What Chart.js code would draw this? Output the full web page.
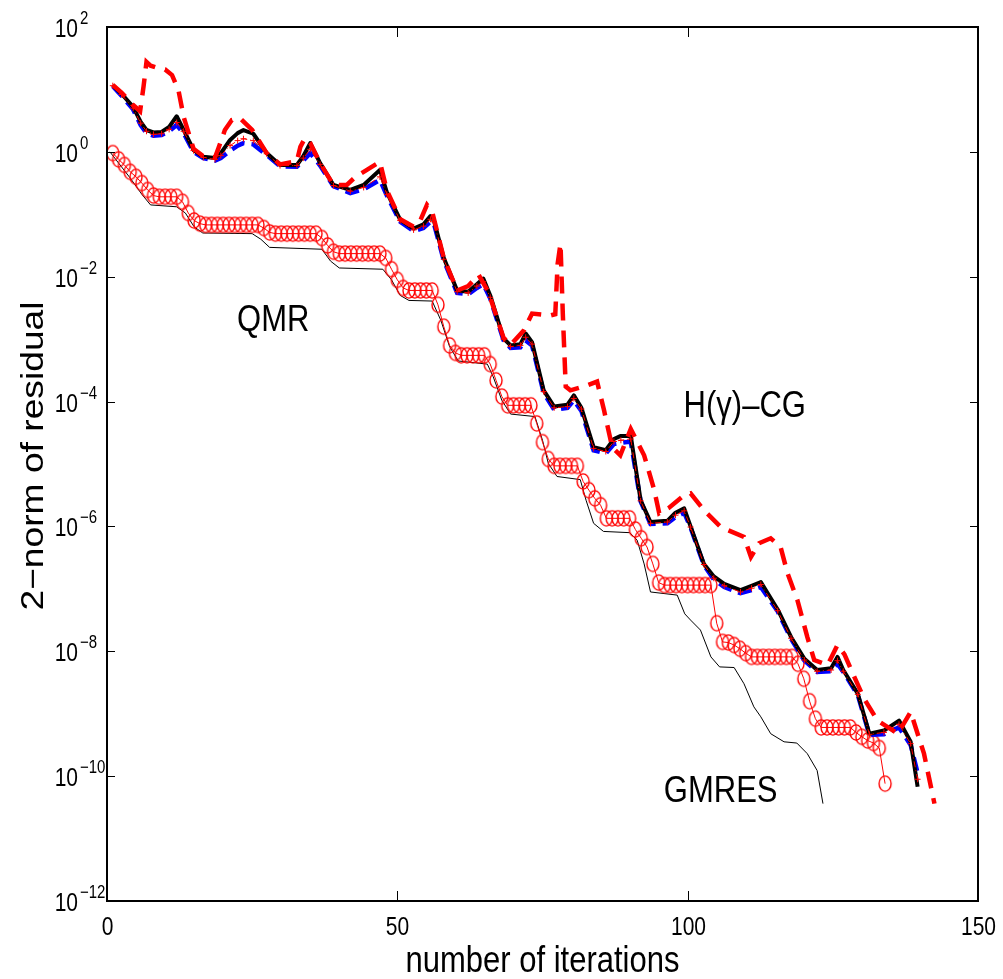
<!DOCTYPE html>
<html>
<head>
<meta charset="utf-8">
<script src="https://cdn.jsdelivr.net/npm/chart.js@4.4.0/dist/chart.umd.min.js"></script>
<style>
html, body { margin: 0; padding: 0; background: #fff; }
#wrap { width: 1003px; height: 979px; }
</style>
</head>
<body>
<div id="wrap"><canvas id="graphCanvas" width="1003" height="979"></canvas></div>
<script>
// axis ticks
var xTicks = [0, 50, 100, 150];
var yTickExps = [2, 0, -2, -4, -6, -8, -10, -12];

// values are log10 of the residual norm
// H(gamma)-CG family (black solid, blue dashed, thin red dash-dot share iterations)
var cgIter = [1, 2.5, 4.5, 5.8, 6.8, 8, 9.4, 10.7, 12, 13.2,
    14.9, 16.6, 18.6, 19.6, 21.2, 22.5, 23.5, 25.2, 27.5, 29.8,
    32.7, 33.8, 35, 36.7, 39, 41.9, 44.2, 47, 48.2, 50.5,
    52.8, 54.5, 55.7, 56.3, 58, 60.3, 62.2, 63.7, 64.8, 66,
    68.3, 69.5, 71.2, 72.1, 73.2, 75.2, 77, 79.3, 80.4, 81.7,
    83.8, 85.9, 87.3, 88.5, 90.2, 91.9, 93.6, 96.5, 97.9, 99.4,
    100.5, 102.8, 104.5, 106.3, 109.1, 111, 112.6, 115.5, 117.8, 120.1,
    122.3, 124.7, 125.8, 126.8, 129.3, 131.3, 133.8, 136.4, 138.4, 139.6];
var cgBlack = [1.07, 0.93, 0.72, 0.48, 0.35, 0.31, 0.32, 0.40, 0.57, 0.35,
    0.03, -0.08, -0.10, -0.02, 0.19, 0.30, 0.35, 0.29, -0.02, -0.21,
    -0.21, -0.07, 0.14, -0.18, -0.53, -0.61, -0.53, -0.29, -0.65, -1.09,
    -1.23, -1.16, -1.03, -1.10, -1.70, -2.22, -2.24, -2.12, -2.03, -2.30,
    -2.99, -3.10, -3.08, -2.91, -3.05, -3.82, -4.08, -4.05, -3.90, -4.10,
    -4.73, -4.78, -4.60, -4.55, -4.55, -5.58, -5.93, -5.91, -5.78, -5.71,
    -6.00, -6.60, -6.80, -6.92, -7.02, -6.95, -6.89, -7.33, -7.77, -8.12,
    -8.30, -8.27, -8.09, -8.30, -8.68, -9.32, -9.27, -9.11, -9.45, -10.17];
var cgBlue = [1.05, 0.90, 0.68, 0.43, 0.30, 0.26, 0.27, 0.33, 0.43, 0.30,
    0.00, -0.10, -0.14, -0.10, 0.02, 0.10, 0.14, 0.12, -0.05, -0.23,
    -0.24, -0.14, -0.02, -0.22, -0.55, -0.66, -0.60, -0.45, -0.70, -1.12,
    -1.27, -1.22, -1.12, -1.15, -1.74, -2.26, -2.28, -2.18, -2.12, -2.35,
    -3.02, -3.14, -3.13, -3.02, -3.10, -3.86, -4.13, -4.10, -3.98, -4.15,
    -4.78, -4.83, -4.68, -4.66, -4.64, -5.60, -5.96, -5.95, -5.85, -5.78,
    -6.02, -6.62, -6.85, -6.97, -7.07, -7.02, -6.97, -7.36, -7.80, -8.15,
    -8.33, -8.32, -8.20, -8.33, -8.70, -9.34, -9.33, -9.22, -9.50, -9.95];
var cgRedThin = [1.06, 0.92, 0.70, 0.46, 0.33, 0.28, 0.29, 0.36, 0.47, 0.33,
    0.02, -0.09, -0.12, -0.06, 0.10, 0.18, 0.21, 0.18, -0.03, -0.22,
    -0.22, -0.10, 0.04, -0.20, -0.54, -0.63, -0.57, -0.40, -0.68, -1.10,
    -1.25, -1.19, -1.08, -1.12, -1.72, -2.24, -2.26, -2.15, -2.08, -2.33,
    -3.00, -3.12, -3.10, -2.97, -3.08, -3.84, -4.10, -4.08, -3.95, -4.12,
    -4.75, -4.80, -4.64, -4.62, -4.60, -5.59, -5.95, -5.93, -5.82, -5.75,
    -6.01, -6.61, -6.83, -6.95, -7.05, -6.99, -6.93, -7.35, -7.79, -8.14,
    -8.32, -8.30, -8.15, -8.32, -8.69, -9.33, -9.30, -9.17, -9.48, -10.05];

// thick red dashed run
var redIter = [1, 2.5, 4.5, 5.7, 6.3, 6.8, 7.5, 8.8, 10, 11.2,
    12.3, 13.2, 14.9, 16.6, 18.6, 19.2, 20.3, 21.5, 22.9, 25,
    27.5, 29.8, 32.7, 33.3, 34.1, 35, 36.7, 39, 41.3, 42.8,
    44.2, 47, 48.2, 50.5, 52.8, 54, 55.1, 56, 58, 60.3,
    62.2, 62.9, 64, 65.7, 68.3, 69.5, 71.8, 73.2, 76.4, 77.2,
    77.6, 78.1, 78.5, 79, 79.8, 82.7, 84.4, 85.6, 87, 88.4,
    90.2, 92.5, 94.2, 95.1, 96.8, 99.4, 100.5, 102.8, 105.7, 109.7,
    110.9, 112.3, 114.3, 116, 117.2, 118.9, 120.6, 121.8, 124.1, 125.8,
    127, 128.7, 130.4, 132.7, 136.2, 138.4, 140.7, 142.5];
var redThick = [1.07, 0.95, 0.75, 0.65, 1.05, 1.44, 1.38, 1.34, 1.32, 1.23,
    0.99, 0.56, 0.05, -0.07, -0.09, 0.06, 0.35, 0.51, 0.54, 0.35,
    -0.02, -0.20, -0.15, 0.08, 0.22, 0.14, -0.18, -0.53, -0.53, -0.40,
    -0.32, -0.16, -0.62, -1.08, -1.20, -1.09, -0.85, -0.96, -1.70, -2.22,
    -2.15, -2.08, -1.97, -2.25, -2.98, -3.09, -2.86, -2.59, -2.62, -2.60,
    -1.80, -1.47, -2.60, -3.76, -3.82, -3.74, -3.68, -4.14, -4.73, -4.86,
    -4.44, -4.86, -5.40, -5.79, -5.70, -5.50, -5.47, -5.74, -6.01, -6.17,
    -6.49, -6.27, -6.19, -6.33, -6.75, -7.18, -7.77, -8.14, -8.22, -7.90,
    -8.05, -8.41, -8.76, -9.11, -9.32, -8.97, -9.64, -10.44];

// QMR, one circle per iteration starting at 1
var qmrLog = [-0.02, -0.12, -0.21, -0.32, -0.40, -0.50, -0.61, -0.70, -0.72, -0.72,
    -0.72, -0.72, -0.80, -0.98, -1.10, -1.15, -1.17, -1.17, -1.17, -1.17,
    -1.17, -1.17, -1.17, -1.17, -1.17, -1.17, -1.22, -1.29, -1.31, -1.31,
    -1.31, -1.31, -1.31, -1.31, -1.31, -1.31, -1.38, -1.50, -1.60, -1.63,
    -1.63, -1.63, -1.63, -1.63, -1.63, -1.63, -1.63, -1.70, -1.88, -2.05,
    -2.18, -2.22, -2.22, -2.22, -2.22, -2.22, -2.45, -2.80, -3.10, -3.22,
    -3.26, -3.26, -3.26, -3.26, -3.26, -3.40, -3.66, -3.92, -4.06, -4.06,
    -4.06, -4.06, -4.06, -4.35, -4.65, -4.92, -5.03, -5.03, -5.03, -5.03,
    -5.03, -5.28, -5.42, -5.55, -5.66, -5.87, -5.87, -5.87, -5.87, -5.87,
    -6.05, -6.19, -6.33, -6.60, -6.90, -6.94, -6.94, -6.94, -6.94, -6.94,
    -6.94, -6.94, -6.94, -6.94, -7.55, -7.85, -7.86, -7.90, -7.96, -8.03,
    -8.09, -8.09, -8.09, -8.09, -8.09, -8.09, -8.09, -8.09, -8.20, -8.44,
    -8.80, -9.08, -9.22, -9.22, -9.22, -9.22, -9.22, -9.22, -9.30, -9.37,
    -9.43, -9.47, -9.55, -10.12];

// GMRES
var gmresIter = [0.5, 2, 4, 6, 7.5, 12, 13.5, 15, 16.5, 25,
    26.5, 28, 37, 38.5, 40, 47.5, 49, 50.5, 52, 56,
    57.5, 59, 60.5, 65.5, 66.5, 68, 69.5, 73.7, 75, 76,
    77.5, 81.5, 82.5, 83.8, 85.5, 90, 91.3, 92.5, 93.6, 98.2,
    99.5, 100.5, 102.2, 104, 105.5, 108, 109.7, 111.4, 112.6, 114.3,
    116.6, 118.8, 120.6, 122.3, 123.3];
var gmresLog = [0.00, -0.18, -0.42, -0.68, -0.85, -0.88, -0.98, -1.20, -1.30, -1.31,
    -1.40, -1.53, -1.56, -1.75, -1.86, -1.88, -2.05, -2.30, -2.38, -2.39,
    -2.70, -3.12, -3.35, -3.40, -3.60, -3.98, -4.20, -4.24, -4.62, -4.99,
    -5.20, -5.25, -5.58, -5.95, -6.08, -6.10, -6.22, -6.60, -7.05, -7.10,
    -7.40, -7.50, -7.66, -8.09, -8.25, -8.26, -8.52, -8.89, -9.05, -9.32,
    -9.45, -9.47, -9.64, -9.91, -10.44];

// curve labels: [text, iteration of left edge, log10 of baseline]
var curveLabels = [
    ['QMR', 22.4, -2.87],
    ['H(\u03b3)\u2013CG', 99.3, -4.24],
    ['GMRES', 95.9, -10.41]
];

var fontFamily = '"Liberation Sans", Arial, Helvetica, sans-serif';

function toPoints(xs, logs) {
    var pts = [];
    for (var i = 0; i < xs.length; i++) {
        pts.push({ x: xs[i], y: Math.pow(10, logs[i]) });
    }
    return pts;
}

var qmrPoints = [];
for (var k = 0; k < qmrLog.length; k++) {
    qmrPoints.push({ x: k + 1, y: Math.pow(10, qmrLog[k]) });
}

// the figure is stretched vertically, so the circles are ellipses
var ring = document.createElement('canvas');
ring.width = 16;
ring.height = 19;
var rc = ring.getContext('2d');
rc.strokeStyle = '#ff0000';
rc.lineWidth = 1.4;
rc.beginPath();
rc.ellipse(8, 9.5, 6, 7.6, 0, 0, 2 * Math.PI);
rc.stroke();

function stretchedText(ctx, text, x, y, size, align, stretch) {
    ctx.save();
    ctx.font = size + 'px ' + fontFamily;
    ctx.textAlign = align;
    ctx.textBaseline = 'alphabetic';
    ctx.translate(x, y);
    ctx.scale(1, stretch);
    ctx.fillText(text, 0, 0);
    ctx.restore();
}

var framePlugin = {
    id: 'frame',
    afterDatasetsDraw: function (chart) {
        var ctx = chart.ctx;
        var a = chart.chartArea;
        var xs = chart.scales.x;
        var ys = chart.scales.y;
        ctx.save();
        ctx.fillStyle = '#000';
        ctx.strokeStyle = '#000';

        ctx.lineWidth = 2;
        ctx.strokeRect(a.left, a.top, a.right - a.left, a.bottom - a.top);

        ctx.lineWidth = 1;
        xTicks.forEach(function (v) {
            var px = Math.round(xs.getPixelForValue(v)) + 0.5;
            ctx.beginPath();
            ctx.moveTo(px, a.bottom);
            ctx.lineTo(px, a.bottom - 10);
            ctx.moveTo(px, a.top);
            ctx.lineTo(px, a.top + 10);
            ctx.stroke();
            stretchedText(ctx, String(v), px, a.bottom + 34, 21, 'center', 1.2);
        });

        yTickExps.forEach(function (e) {
            var py = Math.round(ys.getPixelForValue(Math.pow(10, e))) + 0.5;
            ctx.beginPath();
            ctx.moveTo(a.left, py);
            ctx.lineTo(a.left + 8, py);
            ctx.moveTo(a.right, py);
            ctx.lineTo(a.right - 8, py);
            ctx.stroke();
            stretchedText(ctx, '10', 78, py + 9, 21, 'right', 1.2);
            var ex = e < 0 ? '\u2212' + Math.abs(e) : String(e);
            stretchedText(ctx, ex, 80, py - 4, 15, 'left', 1.2);
        });

        // axis titles
        stretchedText(ctx, 'number of iterations', (a.left + a.right) / 2, 971.5, 31, 'center', 1.2);
        ctx.save();
        ctx.font = '31px ' + fontFamily;
        ctx.textAlign = 'center';
        ctx.textBaseline = 'alphabetic';
        ctx.translate(43, 456);
        ctx.scale(1, 1.2);
        ctx.rotate(-Math.PI / 2);
        ctx.fillText('2\u2212norm of residual', 0, 0);
        ctx.restore();

        curveLabels.forEach(function (c) {
            stretchedText(ctx, c[0], xs.getPixelForValue(c[1]),
                ys.getPixelForValue(Math.pow(10, c[2])), 31, 'left', 1.2);
        });
        ctx.restore();
    }
};

var chartdata = {
    datasets: [{
        label: 'H(\u03b3)-CG dash-dot',
        data: toPoints(cgIter, cgRedThin),
        borderColor: '#ff0000',
        borderWidth: 1,
        borderDash: [6, 3, 1, 3],
        pointStyle: 'cross',
        pointRadius: 3,
        pointBorderColor: '#ff0000',
        pointBorderWidth: 1,
        order: 1
    }, {
        label: 'H(\u03b3)-CG red dashed',
        data: toPoints(redIter, redThick),
        borderColor: '#ff0000',
        borderWidth: 4.5,
        borderDash: [17, 10],
        pointRadius: 0,
        order: 2
    }, {
        label: 'H(\u03b3)-CG',
        data: toPoints(cgIter, cgBlack),
        borderColor: '#000000',
        borderWidth: 4,
        borderJoinStyle: 'round',
        pointRadius: 0,
        order: 3
    }, {
        label: 'H(\u03b3)-CG blue dashed',
        data: toPoints(cgIter, cgBlue),
        borderColor: '#0000ff',
        borderWidth: 4.5,
        borderDash: [14, 7],
        pointRadius: 0,
        order: 4
    }, {
        label: 'QMR',
        data: qmrPoints,
        borderColor: '#ff0000',
        borderWidth: 1,
        pointStyle: ring,
        pointRadius: 5,
        order: 5
    }, {
        label: 'GMRES',
        data: toPoints(gmresIter, gmresLog),
        borderColor: '#000000',
        borderWidth: 1,
        pointRadius: 0,
        order: 6
    }]
};

var graphTarget = document.getElementById('graphCanvas');
var lineGraph = new Chart(graphTarget, {
    type: 'line',
    data: chartdata,
    options: {
        responsive: false,
        animation: false,
        layout: { padding: { left: 107, right: 25, top: 27, bottom: 78 } },
        plugins: { legend: { display: false }, tooltip: { enabled: false } },
        elements: { line: { tension: 0 } },
        scales: {
            x: { type: 'linear', min: 0, max: 150, display: false },
            y: { type: 'logarithmic', min: 1e-12, max: 1e2, display: false }
        }
    },
    plugins: [framePlugin]
});
</script>
</body>
</html>
